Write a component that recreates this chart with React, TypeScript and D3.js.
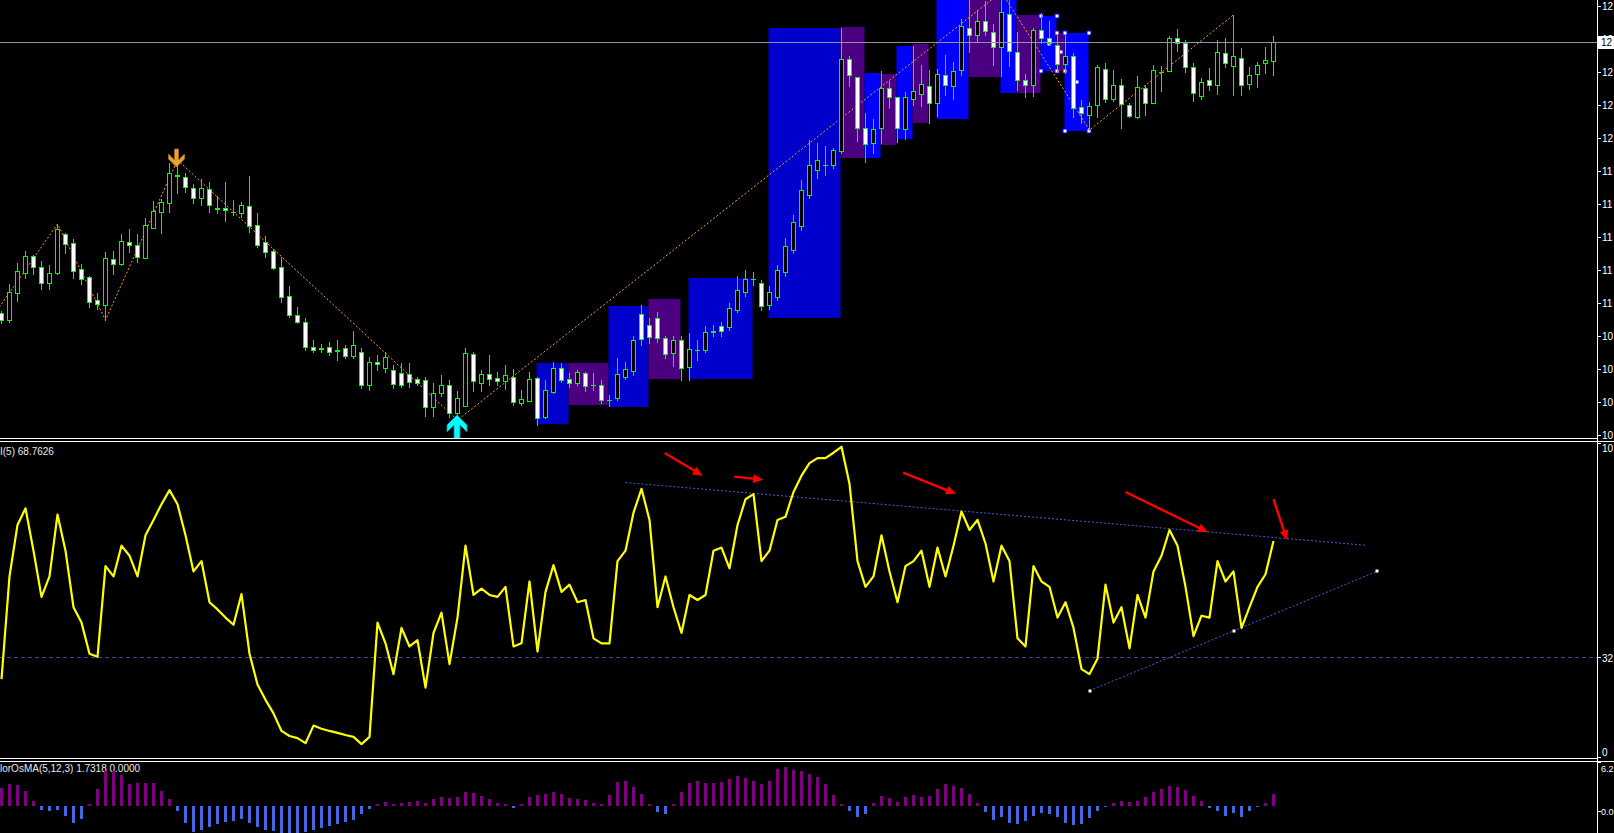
import React from "react";
import * as d3 from "d3";

// ---------- price candles (bar 0 .. 159) ----------
const open = [110.73,110.36,111.79,112.85,113.75,113.17,112.32,112.85,114.92,114.44,113.06,112.64,111.42,111.16,113.59,113.33,114.49,114.34,113.65,115.24,116.08,116.56,118.05,117.94,117.36,116.83,117.30,116.30,116.30,116.08,116.03,116.40,115.40,114.49,114.02,113.17,111.63,110.63,110.25,108.93,108.88,108.93,108.77,108.88,108.45,108.66,106.92,108.13,107.82,107.71,107.55,107.50,107.23,107.18,105.75,106.49,106.92,105.43,105.80,108.56,107.02,107.50,107.29,107.13,107.34,105.96,106.07,107.29,105.22,106.54,107.82,107.23,107.02,107.55,106.92,106.92,106.12,106.23,107.34,107.66,110.68,110.10,110.47,109.41,108.61,109.30,107.87,108.77,108.77,109.72,110.04,109.99,110.89,111.84,112.53,112.32,111.16,111.58,112.90,114.07,115.34,116.99,118.31,118.58,118.58,119.32,124.19,123.24,120.54,119.74,120.54,122.66,122.18,120.48,122.07,122.34,122.76,121.86,123.35,122.76,123.61,125.84,125.47,126.21,125.62,124.83,126.58,124.56,123.08,122.82,125.73,125.31,124.94,123.93,124.35,121.65,121.22,121.76,123.66,122.07,122.82,121.76,121.12,122.66,121.86,123.50,123.56,125.31,125.04,123.77,122.23,123.08,122.82,124.51,123.82,124.25,122.87,123.40,123.98,124.09];
const high = [110.84,112.27,113.38,114.02,113.81,113.49,113.28,115.45,114.97,114.65,113.33,112.69,111.79,113.96,114.02,114.92,115.18,114.92,115.77,116.67,116.77,118.68,118.84,118.15,117.57,117.83,117.67,116.93,117.67,116.72,116.61,117.99,116.03,114.81,114.12,113.70,112.16,111.05,110.47,109.30,109.09,109.19,109.30,109.04,109.78,108.88,108.40,108.51,108.66,107.98,108.08,108.08,107.34,107.34,107.02,107.45,107.18,106.60,108.88,108.66,107.71,108.51,107.60,107.98,107.76,106.65,107.60,107.34,107.18,108.13,108.08,107.55,107.71,107.60,107.55,107.18,106.39,108.35,108.13,109.51,111.16,110.47,110.78,109.51,109.51,109.51,109.67,109.30,110.04,110.10,110.25,111.26,112.69,113.01,112.90,112.48,112.16,113.28,114.71,115.93,117.78,119.90,119.74,119.58,119.48,125.84,124.35,123.26,121.33,121.01,123.56,123.03,122.19,122.44,124.88,123.88,123.61,123.66,124.41,124.03,126.31,127.32,126.79,127.27,126.05,127.74,127.59,125.62,123.40,125.84,126.63,126.21,125.52,125.52,124.51,122.02,121.91,123.88,123.98,123.61,123.13,121.86,123.29,122.82,123.88,123.82,125.41,125.78,125.20,123.98,123.19,123.72,125.20,125.31,126.53,124.78,123.77,124.03,124.83,125.41];
const low = [110.20,110.25,111.37,112.59,112.80,112.00,112.00,112.80,113.91,112.59,112.27,111.05,110.94,110.36,112.80,113.28,113.96,113.43,113.65,115.24,114.97,116.08,117.09,117.14,116.56,116.46,116.08,116.03,115.61,115.93,115.82,115.02,114.23,113.70,113.06,111.31,110.52,110.20,108.77,108.66,108.66,108.51,108.24,108.35,108.35,106.76,106.65,107.71,107.60,106.76,106.81,106.81,106.92,105.27,105.27,106.33,105.22,105.06,105.80,106.60,106.60,106.92,106.92,106.70,105.85,105.85,106.07,104.80,105.17,106.49,107.07,106.81,106.92,106.60,106.65,105.96,105.80,106.12,107.23,107.45,109.04,109.14,109.19,108.35,107.92,107.18,107.18,108.24,108.66,109.51,109.51,109.83,110.78,111.63,112.22,110.89,110.94,111.42,112.69,113.91,115.13,116.83,117.89,118.05,118.42,119.21,122.76,119.85,118.73,119.21,119.74,121.60,119.79,119.95,121.76,121.70,120.80,121.17,122.29,122.07,123.35,124.56,125.15,125.47,123.88,123.29,123.82,122.55,122.18,122.23,125.04,124.94,123.50,123.45,121.12,120.80,120.43,121.12,121.91,121.97,120.54,121.12,121.07,121.22,121.86,122.50,123.55,124.62,123.50,121.97,122.07,122.55,122.34,123.77,122.29,122.29,122.60,122.71,123.45,123.35];
const close = [110.36,111.84,112.96,113.75,113.17,112.32,112.85,115.18,114.39,112.96,112.53,111.31,111.21,113.65,113.33,114.55,114.34,113.70,115.40,116.14,116.61,118.15,117.99,117.41,116.83,117.36,116.46,116.24,116.19,116.07,116.46,115.34,114.34,113.96,113.12,111.58,110.63,110.25,108.93,108.77,108.82,108.66,108.72,108.45,109.04,106.92,108.13,108.03,108.40,106.97,106.92,107.07,107.02,105.75,106.49,106.92,105.43,106.23,108.61,107.13,107.50,107.23,107.13,107.45,106.01,106.17,107.23,105.17,106.65,107.82,107.18,107.02,107.60,106.86,106.91,106.12,106.11,107.50,107.76,109.30,109.35,109.46,109.41,108.56,109.30,107.82,108.82,108.76,109.72,109.78,109.78,111.00,111.95,112.53,112.52,111.10,111.84,113.01,114.28,115.55,117.25,118.58,118.84,118.57,119.37,124.19,123.35,120.54,119.69,120.48,122.66,122.18,120.54,122.18,122.50,122.87,121.86,123.40,122.82,123.56,125.94,125.47,126.21,125.68,124.83,126.68,124.62,123.08,122.82,125.73,125.31,125.04,123.93,124.35,121.60,121.33,121.70,123.77,122.07,122.82,121.81,121.17,122.71,121.86,123.61,123.49,125.31,125.04,123.77,122.39,122.97,122.82,124.56,123.98,124.35,122.82,123.35,123.88,124.14,125.09];

// ---------- RSI(5) ----------
const rsi = [24.8,57.5,73.9,79.2,65.7,51.0,57.5,77.2,65.7,47.7,42.8,32.9,31.9,60.8,57.5,67.3,64.1,57.5,70.6,75.5,80.5,85.0,80.5,70.6,59.1,62.4,49.3,47.0,44.4,42.1,51.9,32.9,23.1,18.2,13.9,8.3,6.7,6.0,4.4,10.0,9.0,8.3,7.7,7.0,6.4,4.1,6.4,42.8,36.2,26.4,41.1,35.2,37.2,22.1,39.5,46.0,29.6,44.4,67.3,51.6,53.6,51.6,51.0,54.2,35.2,36.2,55.9,33.6,52.6,61.1,52.6,54.9,49.3,50.0,37.8,36.2,36.2,62.4,65.7,77.8,85.4,75.5,47.7,57.5,47.7,39.5,51.6,50.0,51.6,65.7,66.7,60.1,73.9,82.1,83.7,62.4,65.7,75.5,76.5,84.4,89.6,93.6,95.2,95.2,96.9,98.8,87.0,62.4,54.2,57.5,70.6,59.1,49.3,60.8,62.4,65.7,54.2,66.7,57.5,67.3,78.2,72.3,75.5,68.0,55.9,67.3,62.4,37.8,35.2,60.8,55.9,54.2,44.4,49.3,41.1,28.0,26.4,31.3,54.9,42.8,47.7,34.6,51.6,44.4,59.1,64.1,72.3,67.3,54.2,38.5,45.0,44.4,62.4,55.9,59.1,41.1,47.7,54.2,58.2,68.76];

// ---------- OsMA(5,12,3) ----------
const osma = [2.5,3.1,2.9,2.1,0.7,-0.6,-0.75,-0.6,-1.5,-2.5,-1.9,0.3,2.4,4.9,4.9,4.4,3.1,3.2,3.2,3.2,2.1,1.0,-0.75,-2.5,-3.7,-3.4,-3.0,-2.6,-2.3,-2.1,-1.9,-2.4,-3.0,-3.4,-3.6,-3.8,-3.9,-3.8,-3.7,-3.5,-3.2,-2.9,-2.6,-2.3,-2.0,-1.2,-0.5,0.2,0.5,0.3,0.4,0.5,0.6,0.4,0.9,1.3,1.1,1.3,1.9,1.8,1.4,0.9,0.4,0.2,-0.3,0.2,1.2,1.5,1.7,1.9,1.7,1.1,0.9,0.8,0.4,0.24,1.5,3.4,3.5,2.65,1.65,0.24,-0.9,-1.2,0.24,1.95,3.2,3.5,3.2,3.2,3.35,3.8,4.2,3.9,3.5,3.1,3.5,5.2,5.5,5.1,4.9,4.5,4.1,3.1,1.5,0.24,-0.75,-1.6,-1.2,0.4,1.4,1.1,0.5,1.2,1.5,1.2,1.4,2.35,3.1,2.8,2.5,1.65,0.4,-0.9,-2.0,-1.6,-2.4,-2.6,-2.2,-1.4,-1.0,-1.2,-1.6,-2.4,-2.8,-2.6,-1.8,-0.8,-0.2,0.4,0.6,0.5,0.6,1.2,2.0,2.4,2.8,2.6,2.2,1.4,0.6,-0.3,-0.8,-1.4,-1.0,-1.6,-0.8,-0.2,0.4,1.7318];

// ---------- axis ticks (labels are cut by the window edge: only the leading part shows) ----------
const priceTicks = [127.0,125.25,123.5,121.75,120.0,118.25,116.5,114.75,113.0,111.25,109.5,107.75,106.0,104.25];
const rsiTicks = [100, 32, 0];
const osmaTicks = [6.2112, 0];

// ---------- zigzag ----------
const zzBar = [-2, 7, 13, 22, 57, 125, 136, 154];
const zzPrice = [109.99, 115.45, 110.36, 118.84, 105.06, 127.74, 120.43, 126.53];

// ---------- boxes ----------
const boxStart = [67,71,76,81,86,96,105,108,110,112,114,117,121,125,127,130,132,133];
const boxEnd = [71,76,81,85,94,105,108,110,112,114,116,121,125,127,130,132,133,136];
const boxTop = [108.10,108.10,111.12,111.50,112.59,125.84,125.89,123.45,123.40,124.90,125.00,127.6,127.6,127.6,126.52,126.47,125.57,125.57];
const boxBottom = [104.85,105.85,105.77,107.24,107.24,110.47,118.95,118.95,119.63,119.95,120.80,121.01,123.24,122.39,122.39,123.56,123.56,120.38];
const boxKind = ["mblue","purple","mblue","purple","mblue","mblue","purple","blue","purple","blue","purple","blue","purple","blue","purple","blue","purple","blue"];
const selectedBoxes = [15, 16, 17];

// ---------- arrows on price ----------
const downArrowBar = 22;
const upArrowBar = 57;

// ---------- RSI trend lines ----------
const tlBar1 = [78, 136];
const tlVal1 = [87.4, 21.1];
const tlBar2 = [170.7, 172];
const tlVal2 = [67.4, 59.2];

// ---------- red arrows on RSI ----------
const raBar1 = [82.9, 91.6, 112.7, 140.5, 159.0];
const raVal1 = [96.8, 89.3, 90.6, 84.4, 82.1];
const raBar2 = [87.65, 95.2, 119.3, 150.8, 160.7];
const raVal2 = [89.6, 88.3, 83.8, 71.6, 69.0];

const FONT = "'Liberation Sans', Arial, sans-serif";
const boxColor: Record<string, string> = { mblue: "#0000CD", blue: "#0000FF", purple: "#4B0082" };

function arrowPoly(x1: number, y1: number, x2: number, y2: number) {
  const dx = x2 - x1, dy = y2 - y1;
  const L = Math.hypot(dx, dy);
  const ux = dx / L, uy = dy / L;
  const px = -uy, py = ux;
  const hl = Math.min(10, L * 0.6), hw = 4.5, sw = 1.2;
  const bx = x2 - ux * hl, by = y2 - uy * hl;
  const pts = [
    [x1 + px * sw, y1 + py * sw],
    [bx + px * sw, by + py * sw],
    [bx + px * hw, by + py * hw],
    [x2, y2],
    [bx - px * hw, by - py * hw],
    [bx - px * sw, by - py * sw],
    [x1 - px * sw, y1 - py * sw],
  ];
  return pts.map((p) => p.join(",")).join(" ");
}

// the window edge at x=1614 leaves room for only the first characters of each label
const visible = (s: string, nChars: number) => s.slice(0, nChars);

export default function App() {
  const W = 1614, H = 833;
  const axisX = 1597.5;
  const n = close.length;
  const idx = d3.range(n);
  const x = d3.scaleLinear().domain([0, 159]).range([1.5, 1273.5]);
  const yP = d3.scaleLinear().domain([104.16, 127.32]).range([437, 0]);
  const yR = d3.scaleLinear().domain([0, 100]).range([757, 443]);
  const yO = d3.scaleLinear().domain([-3.87, 6.2]).range([833, 762]);

  const rsiLine = d3.line<number>().x((_, i) => x(i)).y((d) => yR(d));
  const zzLine = d3.line<number>().x((d) => x(d)).y((_, i) => yP(zzPrice[i]));

  const bid = close[n - 1];
  const bidY = Math.round(yP(bid)) + 0.5;

  const dCx = x(downArrowBar) - 1;
  const dTip = yP(high[downArrowBar]) + 7;
  const downPts = [
    [dCx - 2, dTip - 18], [dCx + 2, dTip - 18], [dCx + 2, dTip - 7], [dCx + 8, dTip - 13],
    [dCx + 8, dTip - 8], [dCx, dTip], [dCx - 8, dTip - 8], [dCx - 8, dTip - 13], [dCx - 2, dTip - 7],
  ].map((p) => p.join(",")).join(" ");
  const uCx = x(upArrowBar) - 0.5;
  const uTip = yP(low[upArrowBar]) - 5;
  const upPts = [
    [uCx, uTip], [uCx + 10, uTip + 10], [uCx + 10, uTip + 17], [uCx + 3, uTip + 10], [uCx + 3, uTip + 30],
    [uCx - 3, uTip + 30], [uCx - 3, uTip + 10], [uCx - 10, uTip + 17], [uCx - 10, uTip + 10],
  ].map((p) => p.join(",")).join(" ");

  const boxRect = (k: number) => {
    const x0 = x(boxStart[k]) - 1;
    const x1 = x(boxEnd[k]) - 1;
    const y0 = Math.round(yP(boxTop[k]));
    const y1 = Math.round(yP(boxBottom[k]));
    return { x0, x1, y0, y1 };
  };

  return (
    <svg width={W} height={H} style={{ position: "absolute", left: 0, top: 0, display: "block", background: "#000" }}>
      <defs>
        <clipPath id="cp1"><rect x={0} y={0} width={1597} height={438} /></clipPath>
        <clipPath id="cp2"><rect x={0} y={442} width={1597} height={316} /></clipPath>
        <clipPath id="cp3"><rect x={0} y={762} width={1597} height={71} /></clipPath>
      </defs>
      <rect x={0} y={0} width={W} height={H} fill="#000" />

      {/* ---------- price panel ---------- */}
      <g clipPath="url(#cp1)">
        {boxStart.map((_, k) => {
          const b = boxRect(k);
          return <rect key={"b" + k} x={b.x0} y={b.y0} width={b.x1 - b.x0} height={b.y1 - b.y0} fill={boxColor[boxKind[k]]} />;
        })}
        {selectedBoxes.map((k) => {
          const b = boxRect(k);
          const pts = [[b.x0, b.y0], [b.x1, b.y0], [b.x0, b.y1], [b.x1, b.y1], [(b.x0 + b.x1) / 2, (b.y0 + b.y1) / 2]];
          return pts.map((p, j) => (
            <rect key={"h" + k + "_" + j} x={Math.round(p[0]) - 2} y={Math.round(p[1]) - 2} width={4} height={4} fill="#fff" stroke={boxColor[boxKind[k]]} strokeWidth={1} />
          ));
        })}
        <path d={zzLine(zzBar) || ""} fill="none" stroke="#F5A623" strokeWidth={1} strokeDasharray="2 2" />
        {idx.map((i) => {
          const cx = x(i);
          const o = open[i], c = close[i];
          const yt = Math.round(yP(Math.max(o, c))) + 0.5;
          const yb = Math.round(yP(Math.min(o, c))) + 0.5;
          const bear = c < o;
          return (
            <g key={"c" + i}>
              <line x1={cx} x2={cx} y1={Math.round(yP(high[i]))} y2={Math.round(yP(low[i])) + 1} stroke="#00FF00" strokeWidth={1} />
              {yb - yt < 1 ? (
                <line x1={cx - 2.5} x2={cx + 2.5} y1={yt} y2={yt} stroke="#00FF00" strokeWidth={1} />
              ) : (
                <rect x={cx - 2} y={yt} width={4} height={yb - yt} fill={bear ? "#FFFFFF" : "#000000"} stroke="#00FF00" strokeWidth={1} />
              )}
            </g>
          );
        })}
        <polygon points={downPts} fill="#E8A132" stroke="#A8701E" strokeWidth={0.8} />
        <polygon points={upPts} fill="#00FFFF" stroke="#0A8FB0" strokeWidth={0.8} />
        <line x1={0} x2={1597} y1={bidY} y2={bidY} stroke="#8A96A6" strokeWidth={1} />
      </g>

      {/* ---------- RSI panel ---------- */}
      <g clipPath="url(#cp2)">
        <line x1={0} x2={1597} y1={Math.round(yR(32)) + 0.5} y2={Math.round(yR(32)) + 0.5} stroke="#5E3A8C" strokeWidth={1} strokeDasharray="4 3" />
        {tlBar1.map((b, k) => (
          <line key={"tl" + k} x1={x(b)} y1={yR(tlVal1[k])} x2={x(tlBar2[k])} y2={yR(tlVal2[k])} stroke="#3F63E0" strokeWidth={1} strokeDasharray="2 2" />
        ))}
        <path d={rsiLine(rsi) || ""} fill="none" stroke="#FFFF00" strokeWidth={2.2} strokeLinejoin="round" />
        {[0, 0.5, 1].map((t, j) => {
          const bx = x(tlBar1[1]) + t * (x(tlBar2[1]) - x(tlBar1[1]));
          const by = yR(tlVal1[1]) + t * (yR(tlVal2[1]) - yR(tlVal1[1]));
          return <rect key={"th" + j} x={Math.round(bx) - 1.5} y={Math.round(by) - 1.5} width={3} height={3} fill="#fff" />;
        })}
        {raBar1.map((b, k) => (
          <polygon key={"ra" + k} points={arrowPoly(x(b), yR(raVal1[k]), x(raBar2[k]), yR(raVal2[k]))} fill="#FF0000" />
        ))}
        <text x={0} y={455} fill="#E8E8E8" fontFamily={FONT} fontSize={10}>I(5) 68.7626</text>
      </g>

      {/* ---------- OsMA panel ---------- */}
      <g clipPath="url(#cp3)">
        <text x={0} y={772} fill="#E8E8E8" fontFamily={FONT} fontSize={10}>lorOsMA(5,12,3) 1.7318 0.0000</text>
        {idx.map((i) => {
          const v = osma[i];
          const y0 = Math.round(yO(0));
          const y1 = Math.round(yO(v));
          return (
            <rect key={"o" + i} x={x(i) - 1.5} y={Math.min(y0, y1)} width={3} height={Math.max(1, Math.abs(y1 - y0))} fill={v >= 0 ? "#800080" : "#4169E1"} />
          );
        })}
      </g>

      {/* ---------- frames ---------- */}
      <line x1={axisX} x2={axisX} y1={0} y2={H} stroke="#FFFFFF" strokeWidth={1} />
      <line x1={0} x2={1598} y1={438.5} y2={438.5} stroke="#FFFFFF" strokeWidth={1} />
      <line x1={0} x2={W} y1={441.5} y2={441.5} stroke="#FFFFFF" strokeWidth={1} />
      <line x1={0} x2={1598} y1={758.5} y2={758.5} stroke="#FFFFFF" strokeWidth={1} />
      <line x1={0} x2={W} y1={761.5} y2={761.5} stroke="#FFFFFF" strokeWidth={1} />

      {/* ---------- axis labels ---------- */}
      {priceTicks.map((t, k) => {
        const yy = Math.round(yP(t)) + 0.5;
        return (
          <g key={"pt" + k}>
            <line x1={1598} x2={1601} y1={yy} y2={yy} stroke="#fff" />
            <text x={1602} y={yy + 3.5} fill="#FFFFFF" fontFamily={FONT} fontSize={10}>{visible(t.toFixed(3), 2)}</text>
          </g>
        );
      })}
      <rect x={1598} y={bidY - 6.5} width={16} height={13} fill="#FFFFFF" />
      <text x={1601} y={bidY + 3.5} fill="#000000" fontFamily={FONT} fontSize={10}>{visible(bid.toFixed(3), 2)}</text>

      {rsiTicks.map((t, k) => {
        const yy = Math.round(yR(t)) + 0.5;
        const ly = t === 100 ? yy + 8 : t === 0 ? yy - 2 : yy + 4;
        return (
          <g key={"rt" + k}>
            <line x1={1598} x2={1601} y1={yy} y2={yy} stroke="#fff" />
            <text x={1602} y={ly} fill="#FFFFFF" fontFamily={FONT} fontSize={10}>{visible(String(t), 2)}</text>
          </g>
        );
      })}
      {osmaTicks.map((t, k) => {
        const yy = Math.round(yO(t)) + 0.5;
        const ly = k === 0 ? yy + 9 : yy + 8;
        return (
          <g key={"ot" + k}>
            <line x1={1598} x2={1601} y1={k === 0 ? yy : yy + 5} y2={k === 0 ? yy : yy + 5} stroke="#fff" />
            <text x={1601} y={ly} fill="#FFFFFF" fontFamily={FONT} fontSize={9}>{visible(t.toFixed(4), 3)}</text>
          </g>
        );
      })}
    </svg>
  );
}
